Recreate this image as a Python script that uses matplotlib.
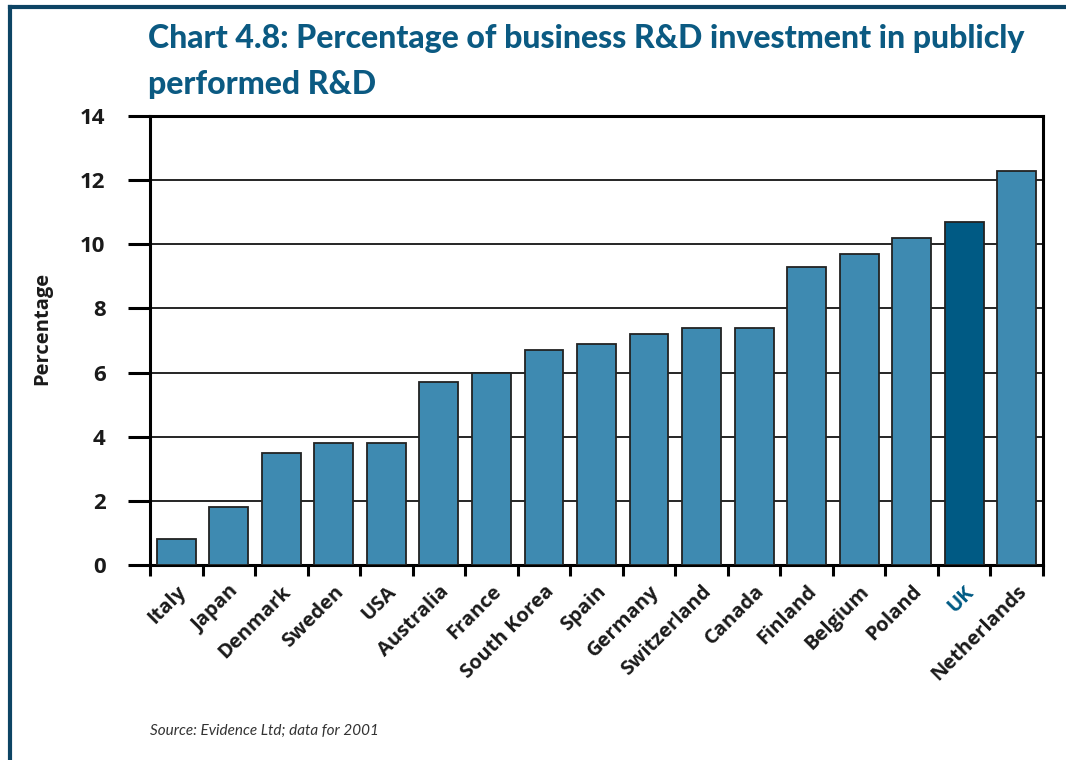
import matplotlib
matplotlib.use('Agg')
import matplotlib.pyplot as plt
from matplotlib.lines import Line2D

countries = ['Italy', 'Japan', 'Denmark', 'Sweden', 'USA', 'Australia', 'France',
             'South Korea', 'Spain', 'Germany', 'Switzerland', 'Canada', 'Finland',
             'Belgium', 'Poland', 'UK', 'Netherlands']
values = [0.8, 1.8, 3.5, 3.8, 3.8, 5.7, 6.0, 6.7, 6.9, 7.2, 7.4, 7.4, 9.3, 9.7,
          10.2, 10.7, 12.3]
highlight = 'UK'
y_ticks = [0, 2, 4, 6, 8, 10, 12, 14]

bar_col = '#3e8ab1'
uk_col = '#005a84'
title_col = '#0b5a82'
frame_col = '#0d4464'

plt.rcParams['font.family'] = ['Open Sans', 'DejaVu Sans']

fig = plt.figure(figsize=(10.66, 7.6), dpi=100)
ax = fig.add_axes([150/1066, 1 - 565/760, (1043 - 150)/1066, (565 - 116)/760])

x = range(len(countries))
cols = [uk_col if c == highlight else bar_col for c in countries]
ax.bar(x, values, width=0.74, color=cols, edgecolor='#222222', linewidth=1.3, zorder=3)

ax.set_xlim(-0.5, len(countries) - 0.5)
ax.set_ylim(0, 14)
ax.set_yticks(y_ticks)
ax.set_yticklabels([str(v) for v in y_ticks], fontsize=16, fontweight='bold', color='#1a1a1a')
ax.tick_params(axis='y', length=16, width=2.2, pad=16)
for v in y_ticks[1:-1]:
    ax.axhline(v, color='black', linewidth=1.2, zorder=1)

# ticks between bars, labels at bar centres
ax.set_xticks([i - 0.5 for i in range(len(countries) + 1)])
ax.set_xticklabels([])
ax.tick_params(axis='x', which='major', length=8, width=2.2)
ax.set_xticks(list(x), minor=True)
ax.set_xticklabels(countries, minor=True, rotation=45, ha='right', va='top',
                   rotation_mode='anchor', fontsize=14.5, fontweight='bold', color='#1a1a1a')
ax.tick_params(axis='x', which='minor', length=0, pad=12)
for lbl in ax.get_xticklabels(minor=True):
    if lbl.get_text() == highlight:
        lbl.set_color(uk_col)

for s in ax.spines.values():
    s.set_linewidth(2.2)
    s.set_color('black')

fig.text(42/1066, 1 - 328/760, 'Percentage', rotation=90, ha='center', va='center',
         fontsize=14.5, fontweight='bold', color='#1a1a1a')

fig.text(148/1066, 1 - 24/760, 'Chart 4.8: Percentage of business R&D investment in publicly\nperformed R&D',
         ha='left', va='top', fontsize=23, fontweight='black', color=title_col,
         linespacing=1.72, family=['Lato', 'DejaVu Sans'])

fig.text(150/1066, 1 - 731/760, 'Source: Evidence Ltd; data for 2001', ha='left', va='center',
         fontsize=11, style='italic', color='#333333', family=['Lato', 'DejaVu Sans'])

# page frame
fig.add_artist(Line2D([10/1066, 1], [1 - 7/760, 1 - 7/760], transform=fig.transFigure,
                      color=frame_col, linewidth=3))
fig.add_artist(Line2D([10/1066, 10/1066], [0, 1 - 7/760], transform=fig.transFigure,
                      color=frame_col, linewidth=3))

fig.savefig('out.png', dpi=100)
